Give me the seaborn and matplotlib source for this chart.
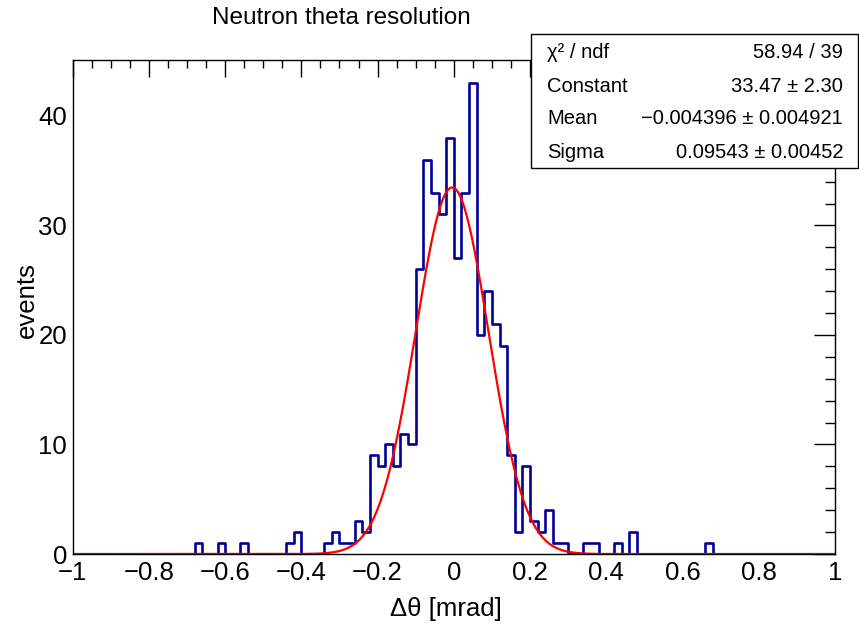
"""Neutron theta resolution histogram with gaussian fit (ROOT style)."""

import matplotlib
matplotlib.use("Agg")
import matplotlib.pyplot as plt
from matplotlib.patches import Rectangle
from matplotlib.ticker import MultipleLocator
import numpy as np
import pandas as pd
import seaborn as sns

# non-empty bins: lower edge and content (bin width 0.02 on [-1, 1])
BIN_LO = [-0.68, -0.62, -0.56, -0.44, -0.42, -0.34, -0.32, -0.30, -0.28,
          -0.26, -0.24, -0.22, -0.20, -0.18, -0.16, -0.14, -0.12, -0.10,
          -0.08, -0.06, -0.04, -0.02, 0.00, 0.02, 0.04, 0.06, 0.08, 0.10,
          0.12, 0.14, 0.16, 0.18, 0.20, 0.22, 0.24, 0.26, 0.28, 0.34, 0.36,
          0.42, 0.46, 0.66]
COUNTS = [1, 1, 1, 1, 2, 1, 2, 1, 1,
          3, 2, 9, 8, 10, 8, 11, 10, 26,
          36, 33, 31, 38, 27, 33, 43, 20, 24, 21,
          19, 9, 2, 8, 3, 2, 4, 1, 1, 1, 1,
          1, 2, 1]
BIN_WIDTH = 0.02

# gaussian fit result
FIT_CONST = 33.47
FIT_MEAN = -0.004396
FIT_SIGMA = 0.09543

STAT_NAMES = ["χ² / ndf", "Constant", "Mean", "Sigma"]
STAT_VALUES = ["58.94 / 39", "33.47 ± 2.30", "−0.004396 ± 0.004921",
               "0.09543 ± 0.00452"]

X_TICKS = [-1, -0.8, -0.6, -0.4, -0.2, 0, 0.2, 0.4, 0.6, 0.8, 1]
X_LABELS = ["−1", "−0.8", "−0.6", "−0.4", "−0.2", "0", "0.2", "0.4", "0.6",
            "0.8", "1"]
Y_TICKS = [0, 10, 20, 30, 40]

BLUE = "#000099"
RED = "#ff0000"

sns.set_style("white")
plt.rcParams["font.family"] = ["Liberation Sans", "DejaVu Sans"]
plt.rcParams["text.color"] = "black"
plt.rcParams["axes.labelcolor"] = "black"
plt.rcParams["xtick.color"] = "black"
plt.rcParams["ytick.color"] = "black"

hist = pd.DataFrame({"center": np.array(BIN_LO) + BIN_WIDTH / 2,
                     "n": COUNTS})
xs = np.linspace(-1, 1, 600)
fit = pd.DataFrame({"x": xs,
                    "y": FIT_CONST * np.exp(-0.5 * ((xs - FIT_MEAN) / FIT_SIGMA) ** 2)})

fig = plt.figure(figsize=(8.59, 6.33), dpi=100)
ax = fig.add_axes([0.0846, 0.1248, 0.8874, 0.7812])

sns.histplot(data=hist, x="center", weights="n", bins=100, binrange=(-1, 1),
             element="step", fill=False, color=BLUE, linewidth=1.9, ax=ax)
sns.lineplot(data=fit, x="x", y="y", color=RED, linewidth=1.6, ax=ax)

ax.set_xlim(-1, 1)
ax.set_ylim(0, 45.15)
ax.set_xticks(X_TICKS)
ax.set_xticklabels(X_LABELS)
ax.set_yticks(Y_TICKS)
ax.xaxis.set_minor_locator(MultipleLocator(0.05))
ax.yaxis.set_minor_locator(MultipleLocator(2))
ax.tick_params(which="both", direction="in", top=True, right=True,
               labelsize=18.5, width=1.0, color="black", labelcolor="black")
ax.tick_params(axis="x", which="major", length=12, pad=5)
ax.tick_params(axis="x", which="minor", length=6)
ax.tick_params(axis="y", which="major", length=15, pad=4)
ax.tick_params(axis="y", which="minor", length=7.5)
ax.set_xlabel("")
ax.set_ylabel("")
for sp in ax.spines.values():
    sp.set_color("black")
    sp.set_linewidth(1.0)

fig.text(341 / 859, 1 - 18 / 633, "Neutron theta resolution", ha="center",
         va="center", fontsize=17.5, color="black")
fig.text(446 / 859, 1 - 609 / 633, "Δθ [mrad]", ha="center", va="center",
         fontsize=18.5, color="black")
fig.text(27 / 859, 1 - 300 / 633, "events", ha="center", va="center",
         rotation=90, fontsize=18.5, color="black")

# stats box
fig.add_artist(Rectangle((531 / 859, 1 - 168 / 633), 327 / 859, 134 / 633,
                         transform=fig.transFigure, facecolor="white",
                         edgecolor="black", linewidth=1.0, zorder=5))
rows_y = [52, 86, 119, 153]
for name, val, py in zip(STAT_NAMES, STAT_VALUES, rows_y):
    fig.text(547 / 859, 1 - py / 633, name, ha="left", va="center",
             fontsize=14.5, color="black", zorder=6)
    fig.text(843 / 859, 1 - py / 633, val, ha="right", va="center",
             fontsize=14.5, color="black", zorder=6)

fig.savefig("out.png", dpi=100)
plt.close()
